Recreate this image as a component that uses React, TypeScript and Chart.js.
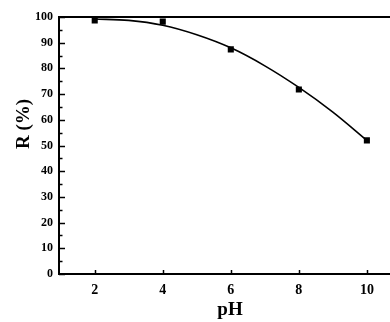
import React, { useEffect, useRef } from "react";
import { Chart, registerables } from "chart.js";

Chart.register(...registerables);

const phValues = [2, 4, 6, 8, 10];
const removal = [98.7, 98.2, 87.4, 71.8, 52.0];
const fitPh = [2, 3, 4, 5, 6, 7, 8, 9, 10];
const fitR = [99.2, 98.7, 96.8, 93.1, 88.0, 81.0, 72.6, 63.0, 52.0];
const xTicks = [2, 4, 6, 8, 10];
const yTicks = [0, 5, 10, 15, 20, 25, 30, 35, 40, 45, 50, 55, 60, 65, 70, 75, 80, 85, 90, 95, 100];

const FONT = "'Liberation Serif', 'DejaVu Serif', serif";

const framePlugin = {
  id: "frame",
  afterDraw(chart: any) {
    const { ctx, chartArea, scales } = chart;
    const xs = scales.x;
    const ys = scales.y;
    ctx.save();
    ctx.strokeStyle = "#000";
    ctx.lineWidth = 2;
    ctx.beginPath();
    ctx.moveTo(chartArea.left, chartArea.top);
    ctx.lineTo(chart.width, chartArea.top);
    ctx.stroke();
    ctx.lineWidth = 1.5;
    yTicks.forEach((v) => {
      const py = Math.round(ys.getPixelForValue(v)) + 0.5;
      const len = v % 10 === 0 ? 6 : 3.5;
      ctx.beginPath();
      ctx.moveTo(chartArea.left, py);
      ctx.lineTo(chartArea.left + len, py);
      ctx.stroke();
    });
    xTicks.forEach((v) => {
      const px = Math.round(xs.getPixelForValue(v)) + 0.5;
      ctx.beginPath();
      ctx.moveTo(px, chartArea.bottom);
      ctx.lineTo(px, chartArea.bottom - 4);
      ctx.stroke();
    });
    ctx.fillStyle = "#000";
    ctx.font = `bold 19px ${FONT}`;
    ctx.textAlign = "center";
    ctx.textBaseline = "middle";
    ctx.fillText("pH", 230, 310);
    ctx.translate(24, 124);
    ctx.rotate(-Math.PI / 2);
    ctx.fillText("R (%)", 0, 0);
    ctx.restore();
  },
};

export default function App() {
  const ref = useRef<HTMLCanvasElement | null>(null);
  useEffect(() => {
    document.body.style.margin = "0";
    document.body.style.overflow = "hidden";
    const chart = new Chart(ref.current as HTMLCanvasElement, {
      type: "scatter",
      data: {
        datasets: [
          {
            type: "line",
            data: fitPh.map((x, i) => ({ x, y: fitR[i] })),
            borderColor: "#000",
            borderWidth: 1.6,
            pointRadius: 0,
            cubicInterpolationMode: "monotone",
            fill: false,
          } as any,
          {
            data: phValues.map((x, i) => ({ x, y: removal[i] })),
            pointStyle: "rect",
            pointRadius: 4.3,
            backgroundColor: "#000",
            borderColor: "#000",
            borderWidth: 0,
            showLine: false,
          } as any,
        ],
      },
      options: {
        animation: false,
        responsive: false,
        maintainAspectRatio: false,
        layout: { padding: { left: 0, right: 0, top: 17, bottom: 0 } },
        plugins: { legend: { display: false }, tooltip: { enabled: false } },
        scales: {
          x: {
            type: "linear",
            min: 0.95,
            max: 10.7,
            afterBuildTicks: (s: any) => {
              s.ticks = xTicks.map((v) => ({ value: v }));
            },
            afterFit: (s: any) => {
              s.height = 48;
            },
            grid: { display: false, drawTicks: false },
            border: { display: true, color: "#000", width: 2 },
            ticks: {
              color: "#000",
              padding: 8,
              font: { family: FONT, size: 14, weight: "bold" },
              callback: (v: any) => String(v),
            },
          },
          y: {
            type: "linear",
            min: 0,
            max: 100,
            afterBuildTicks: (s: any) => {
              s.ticks = yTicks.filter((v) => v % 10 === 0).map((v) => ({ value: v }));
            },
            afterFit: (s: any) => {
              s.width = 59;
            },
            grid: { display: false, drawTicks: false },
            border: { display: true, color: "#000", width: 2 },
            ticks: {
              color: "#000",
              padding: 6,
              font: { family: FONT, size: 12, weight: "bold" },
              callback: (v: any) => String(v),
            },
          },
        },
      },
      plugins: [framePlugin],
    } as any);
    return () => chart.destroy();
  }, []);
  return (
    <div style={{ position: "relative", width: 390, height: 322, overflow: "hidden", background: "#fff" }}>
      <canvas ref={ref} width={395} height={322} style={{ display: "block", width: 395, height: 322 }} />
    </div>
  );
}
